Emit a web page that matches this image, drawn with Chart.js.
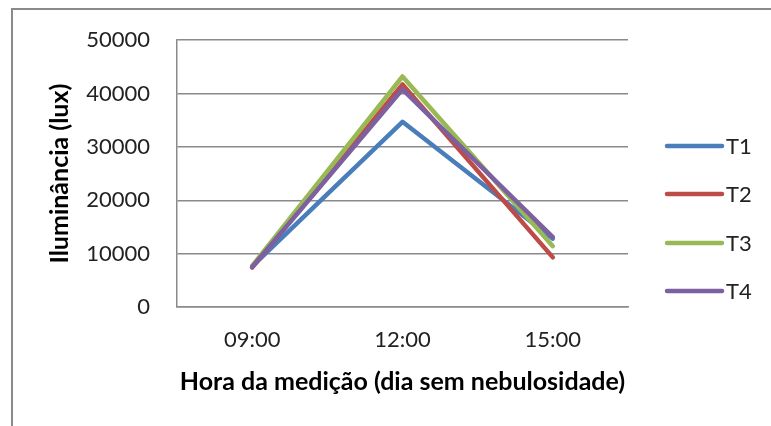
<!DOCTYPE html>
<html>
<head>
<meta charset="utf-8">
<script src="https://cdn.jsdelivr.net/npm/chart.js@4"></script>
<style>
  html, body { margin: 0; padding: 0; background: #fff; }
  #wrap { position: relative; width: 771px; height: 426px; overflow: hidden; }
  #frame { position: absolute; left: 11px; top: 8px; width: 800px; height: 500px;
           border-left: 2px solid #8a8a8a; border-top: 2px solid #8a8a8a; box-sizing: border-box; }
  canvas { position: absolute; left: 0; top: 0; }
</style>
</head>
<body>
<div id="wrap">
  <div id="frame"></div>
  <canvas id="c" width="771" height="426"></canvas>
</div>
<script>
const categories = ['09:00', '12:00', '15:00'];
const seriesNames = ['T1', 'T2', 'T3', 'T4'];
const T1 = [7600, 34700, 12800];
const T2 = [7400, 41700, 9300];
const T3 = [7700, 43200, 11400];
const T4 = [7500, 40800, 13100];
const yTicks = [0, 10000, 20000, 30000, 40000, 50000];
const colors = ['#4A7EBB', '#BE4B48', '#98B954', '#7D60A0'];
const xTitle = 'Hora da medição (dia sem nebulosidade)';
const yTitle = 'Iluminância (lux)';

const FONT = 'Lato, "Liberation Sans", sans-serif';
const seriesValues = [T1, T2, T3, T4];

const legendPlugin = {
  id: 'customLegend',
  afterDraw(chart) {
    const ctx = chart.ctx;
    const ds = chart.data.datasets;
    const x0 = 667, x1 = 722, tx = 726;
    const ys = [146, 194, 243, 291];
    ctx.save();
    ds.forEach((d, i) => {
      ctx.strokeStyle = d.borderColor;
      ctx.lineWidth = 4.5;
      ctx.lineCap = 'round';
      ctx.beginPath();
      ctx.moveTo(x0, ys[i]);
      ctx.lineTo(x1, ys[i]);
      ctx.stroke();
      ctx.fillStyle = '#222';
      ctx.font = '22px ' + FONT;
      ctx.textBaseline = 'middle';
      ctx.textAlign = 'left';
      ctx.fillText(d.label, tx, ys[i] + 1);
    });
    ctx.restore();
  }
};

new Chart(document.getElementById('c'), {
  type: 'line',
  data: {
    labels: categories,
    datasets: seriesNames.map((n, i) => ({
      label: n,
      data: seriesValues[i],
      borderColor: colors[i],
      backgroundColor: colors[i],
      borderWidth: 4.5,
      pointRadius: 0,
      tension: 0,
      borderCapStyle: 'round',
      borderJoinStyle: 'round',
      order: seriesNames.length - i
    }))
  },
  options: {
    responsive: false,
    animation: false,
    devicePixelRatio: 1,
    layout: { padding: { left: 45, right: 143, top: 38, bottom: 29 } },
    plugins: { legend: { display: false }, tooltip: { enabled: false } },
    scales: {
      x: {
        offset: true,
        grid: { display: false, drawTicks: false, tickLength: 0 },
        border: { display: true, color: '#8a8a8a', width: 1.5 },
        ticks: { color: '#222', font: { family: FONT, size: 22 }, padding: 20, maxRotation: 0 },
        title: { display: true, text: xTitle, color: '#000', font: { family: FONT, size: 25, weight: 'bold' }, padding: 0 },
        afterFit(s) { s.height = 90; }
      },
      y: {
        min: 0, max: 50000,
        afterBuildTicks(s) { s.ticks = yTicks.map(v => ({ value: v })); },
        grid: { color: '#8a8a8a', lineWidth: 1.5, drawTicks: false, tickLength: 0 },
        border: { display: true, color: '#8a8a8a', width: 1.5 },
        ticks: { color: '#222', font: { family: FONT, size: 22 }, padding: 27, callback: v => String(v) },
        title: { display: true, text: yTitle, color: '#000', font: { family: FONT, size: 25, weight: 'bold' }, padding: 0 },
        afterFit(s) { s.width = 132; }
      }
    }
  },
  plugins: [legendPlugin]
});
</script>
</body>
</html>
